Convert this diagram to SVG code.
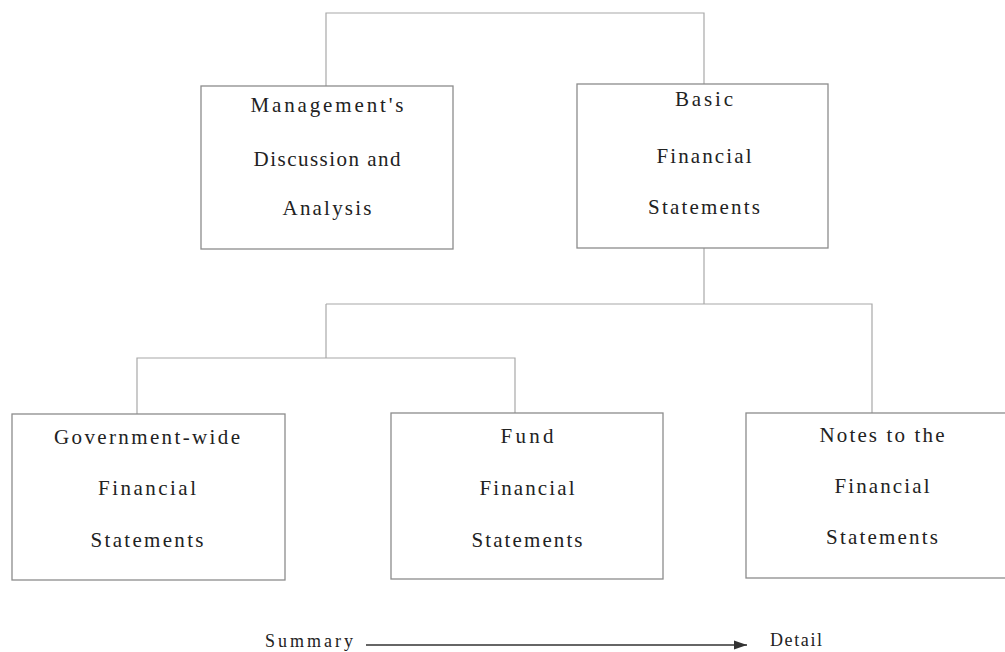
<svg xmlns="http://www.w3.org/2000/svg" width="1005" height="652" viewBox="0 0 1005 652">
<style>
.box{fill:#fff;stroke:#8c8c8c;stroke-width:1.3}
.con{fill:none;stroke:#a8a8a8;stroke-width:1.2}
text{font-family:"Liberation Serif","Times New Roman",serif;fill:#222}
.t{font-size:21px;text-anchor:middle}
.s{font-size:18px}
</style>
<defs>
<marker id="ah" markerWidth="14" markerHeight="12" refX="13" refY="6" orient="auto" markerUnits="userSpaceOnUse">
<path d="M0,1.5 L13,6 L0,10.5 Z" fill="#333"/>
</marker>
</defs>
<rect width="1005" height="652" fill="#fff"/>
<g id="connectors">
<path class="con" d="M326,86 V13 H704 V84"/>
<path class="con" d="M704,248 V304"/>
<path class="con" d="M326,304 H872 V413"/>
<path class="con" d="M326,304 V358"/>
<path class="con" d="M137,414 V358 H515 V414"/>
<line x1="366" y1="645" x2="747" y2="645" stroke="#333" stroke-width="1.3" marker-end="url(#ah)"/>
</g>
<g id="mdna">
<rect class="box" x="201" y="86" width="252" height="163"/>
<text class="t" x="327" y="112" textLength="153" lengthAdjust="spacing">Management's</text>
<text class="t" x="327" y="166" textLength="147" lengthAdjust="spacing">Discussion and</text>
<text class="t" x="327" y="215" textLength="89" lengthAdjust="spacing">Analysis</text>
</g>
<g id="basic">
<rect class="box" x="577" y="84" width="251" height="164"/>
<text class="t" x="704" y="106" textLength="58" lengthAdjust="spacing">Basic</text>
<text class="t" x="704" y="163" textLength="95" lengthAdjust="spacing">Financial</text>
<text class="t" x="704" y="214" textLength="112" lengthAdjust="spacing">Statements</text>
</g>
<g id="govwide">
<rect class="box" x="12" y="414" width="273" height="166"/>
<text class="t" x="147" y="444" textLength="186" lengthAdjust="spacing">Government-wide</text>
<text class="t" x="147" y="495" textLength="98" lengthAdjust="spacing">Financial</text>
<text class="t" x="147" y="547" textLength="113" lengthAdjust="spacing">Statements</text>
</g>
<g id="fund">
<rect class="box" x="391" y="413" width="272" height="166"/>
<text class="t" x="527" y="443" textLength="53" lengthAdjust="spacing">Fund</text>
<text class="t" x="527" y="495" textLength="95" lengthAdjust="spacing">Financial</text>
<text class="t" x="527" y="547" textLength="111" lengthAdjust="spacing">Statements</text>
</g>
<g id="notes">
<rect class="box" x="746" y="413" width="270" height="165"/>
<text class="t" x="882" y="442" textLength="125" lengthAdjust="spacing">Notes to the</text>
<text class="t" x="882" y="493" textLength="95" lengthAdjust="spacing">Financial</text>
<text class="t" x="882" y="544" textLength="112" lengthAdjust="spacing">Statements</text>
</g>
<g id="legend">
<text class="s" x="265" y="647" textLength="88" lengthAdjust="spacing">Summary</text>
<text class="s" x="770" y="646" textLength="52" lengthAdjust="spacing">Detail</text>
</g>
</svg>
